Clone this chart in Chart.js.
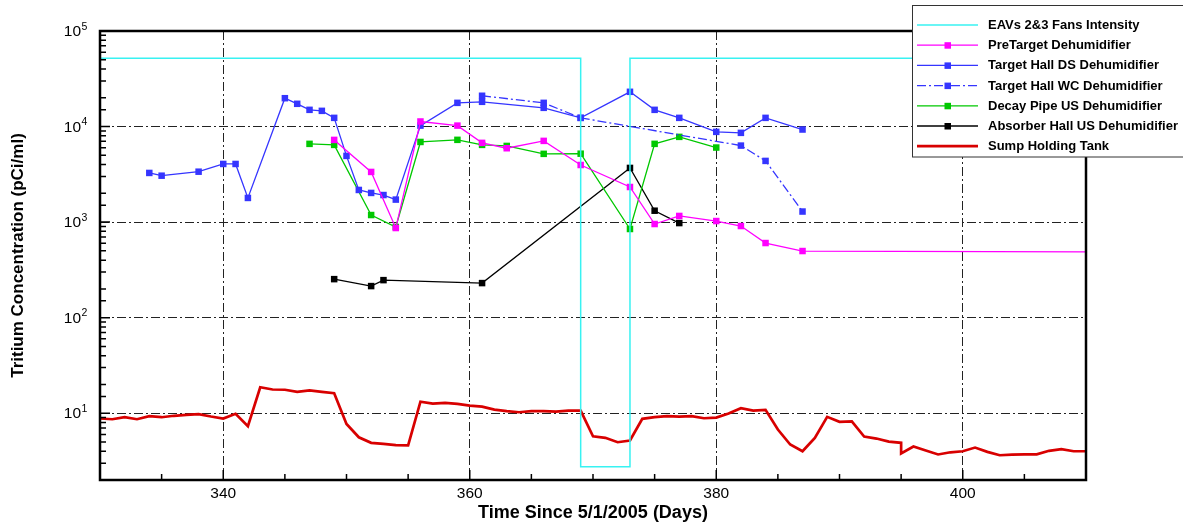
<!DOCTYPE html>
<html>
<head>
<meta charset="utf-8">
<script src="https://cdn.jsdelivr.net/npm/chart.js@4"></script>
<style>
  body { margin: 0; background: #fff; }
  canvas { display: block; }
</style>
</head>
<body>
<canvas id="chart" width="1183" height="529"></canvas>
<script>
// data (days since 5/1/2005, pCi/ml)
const eavDays = [330, 369, 369, 373, 373, 410];
const eavVals = [52000, 52000, 2.75, 2.75, 52000, 52000];

const preDays = [349, 352, 354, 356, 359, 361, 363, 366, 369, 373, 375, 377, 380, 382, 384, 387, 412];
const preVals = [7250, 3350, 867, 11300, 10230, 6750, 5930, 7080, 3960, 2330, 955, 1160, 1026, 910, 604, 498, 488];

const dsDays = [334, 335, 338, 340, 341, 342, 345, 346, 347, 348, 349, 350, 351, 352, 353, 354, 356, 359, 361, 366, 369, 373, 375, 377, 380, 382, 384, 387];
const dsVals = [3270, 3060, 3370, 4060, 4060, 1790, 19800, 17300, 14960, 14600, 12330, 4930, 2170, 2020, 1920, 1720, 10230, 17700, 18150, 15700, 12330, 23100, 14960, 12330, 8800, 8590, 12330, 9310];

const wcDays = [361, 366, 369, 382, 384, 387];
const wcVals = [21000, 17700, 12330, 6320, 4370, 1290];

const dpDays = [347, 349, 352, 354, 356, 359, 361, 363, 366, 369, 373, 375, 377, 380];
const dpVals = [6590, 6430, 1186, 889, 6900, 7260, 6430, 6270, 5180, 5200, 847, 6590, 7800, 6030];

const ahDays = [349, 352, 353, 361, 373, 375, 377];
const ahVals = [253, 214, 247, 230, 3690, 1316, 977];

const sumpDays = [330, 331, 332, 333, 334, 335, 336, 337, 338, 339, 340, 341, 342, 343, 344, 345, 346, 347, 348, 349,
  350, 351, 352, 353, 354, 355, 356, 357, 358, 359, 360, 361, 362, 363, 364, 365, 366, 367, 368, 369,
  370, 371, 372, 373, 374, 375, 376, 377, 378, 379, 380, 381, 382, 383, 384, 385, 386, 387, 388, 389,
  390, 391, 392, 393, 394, 395, 395, 396, 397, 398, 399, 400, 401, 402, 403, 404, 405, 406, 407, 408, 409, 410];
const sumpVals = [8.8, 8.65, 9.08, 8.65, 9.3, 9.08, 9.4, 9.62, 9.77, 9.23, 8.8, 9.85, 7.31, 18.7, 17.7, 17.6, 16.7, 17.3, 16.7, 16.2,
  7.72, 5.6, 4.9, 4.78, 4.63, 4.6, 13.2, 12.6, 12.8, 12.5, 12.0, 11.7, 10.9, 10.5, 10.24, 10.5, 10.5, 10.4, 10.65, 10.65,
  5.74, 5.53, 4.97, 5.18, 8.74, 9.08, 9.3, 9.23, 9.3, 8.86, 9.0, 9.93, 11.3, 10.65, 10.85, 6.74, 4.7, 4.0, 5.52, 9.16,
  8.13, 8.2, 5.69, 5.43, 5.05, 4.9, 3.8, 4.48, 4.07, 3.7, 3.9, 4.0, 4.37, 3.94, 3.63, 3.68, 3.71, 3.71, 4.04, 4.2, 4.0, 4.0];

const xMajorTicks = [340, 360, 380, 400];
const yDecades = [1, 2, 3, 4, 5];

const FONT = '"Liberation Sans", Arial, sans-serif';
const GRID_DASH = [9, 3, 2, 3];

function pts(xs, ys) {
  return xs.map((x, i) => ({ x: x, y: ys[i] }));
}

function series(label, xs, ys, color, opts) {
  return Object.assign({
    label: label,
    data: pts(xs, ys),
    borderColor: color,
    backgroundColor: color,
    borderWidth: 1.3,
    pointStyle: 'rect',
    pointRadius: 4.6,
    pointBorderWidth: 0,
    tension: 0
  }, opts || {});
}

const datasets = [
  series('EAVs 2&3 Fans Intensity', eavDays, eavVals, '#38f2f2', { pointRadius: 0, borderWidth: 1.5 }),
  series('PreTarget Dehumidifier', preDays, preVals, '#ff00ff'),
  series('Target Hall DS Dehumidifier', dsDays, dsVals, '#3535ff'),
  series('Target Hall WC Dehumidifier', wcDays, wcVals, '#3535ff', { borderDash: [9, 3, 2, 3] }),
  series('Decay Pipe US Dehumidifier', dpDays, dpVals, '#00c800'),
  series('Absorber Hall US Dehumidifier', ahDays, ahVals, '#000000'),
  series('Sump Holding Tank', sumpDays, sumpVals, '#d80000', { pointRadius: 0, borderWidth: 2.7 })
];

const isDecade = v => Math.abs(Math.log10(v) - Math.round(Math.log10(v))) < 1e-9;

const framePlugin = {
  id: 'frame',
  afterDraw(chart) {
    const ctx = chart.ctx;
    const a = chart.chartArea;
    const xs = chart.scales.x, ys = chart.scales.y;
    ctx.save();

    // inward ticks
    ctx.strokeStyle = '#000';
    ctx.lineWidth = 1.5;
    ctx.beginPath();
    xs.ticks.forEach(t => {
      const px = xs.getPixelForValue(t.value);
      const len = xMajorTicks.includes(t.value) ? 10 : 6;
      ctx.moveTo(px, a.bottom);
      ctx.lineTo(px, a.bottom - len);
    });
    ys.ticks.forEach(t => {
      const py = ys.getPixelForValue(t.value);
      const len = isDecade(t.value) ? 10 : 6;
      ctx.moveTo(a.left, py);
      ctx.lineTo(a.left + len, py);
    });
    ctx.stroke();

    // frame
    ctx.lineWidth = 2.5;
    ctx.strokeRect(a.left, a.top, a.right - a.left, a.bottom - a.top);

    // y labels 10^n
    ctx.fillStyle = '#000';
    yDecades.forEach(d => {
      const py = ys.getPixelForValue(Math.pow(10, d));
      ctx.font = '15.5px ' + FONT;
      ctx.textAlign = 'right';
      ctx.textBaseline = 'middle';
      ctx.fillText('10', 81, py + 1);
      ctx.font = '10.5px ' + FONT;
      ctx.textAlign = 'left';
      ctx.textBaseline = 'alphabetic';
      ctx.fillText(String(d), 81.5, py - 1.5);
    });

    // legend
    const lx = 912.5, ly = 5.5, lw = 290, lh = 151.5;
    ctx.fillStyle = '#fff';
    ctx.fillRect(lx, ly, lw, lh);
    ctx.lineWidth = 1;
    ctx.strokeStyle = '#333';
    ctx.strokeRect(lx, ly, lw, lh);
    chart.data.datasets.forEach((ds, i) => {
      const y = 25 + i * 20.2;
      ctx.strokeStyle = ds.borderColor;
      ctx.lineWidth = ds.borderWidth;
      ctx.setLineDash(ds.borderDash || []);
      ctx.beginPath();
      ctx.moveTo(917, y);
      ctx.lineTo(978, y);
      ctx.stroke();
      ctx.setLineDash([]);
      if (ds.pointRadius) {
        ctx.fillStyle = ds.backgroundColor;
        ctx.fillRect(944.5, y - 3, 6.5, 6.5);
      }
      ctx.fillStyle = '#000';
      ctx.font = 'bold 13px ' + FONT;
      ctx.textAlign = 'left';
      ctx.textBaseline = 'middle';
      ctx.fillText(ds.label, 988, y + 0.5);
    });
    ctx.restore();
  }
};

new Chart(document.getElementById('chart').getContext('2d'), {
  type: 'line',
  data: { datasets: datasets },
  options: {
    responsive: false,
    animation: false,
    layout: { padding: { top: 31, right: 97, left: 0, bottom: 0 } },
    plugins: { legend: { display: false }, tooltip: { enabled: false } },
    scales: {
      x: {
        type: 'linear',
        min: 330,
        max: 410,
        ticks: {
          stepSize: 5,
          autoSkip: false,
          maxRotation: 0,
          padding: 4,
          color: '#000',
          font: { family: FONT, size: 15.5 },
          callback: v => xMajorTicks.includes(v) ? String(v) : ''
        },
        grid: {
          drawTicks: false,
          lineWidth: 1,
          color: c => (c.tick && xMajorTicks.includes(c.tick.value)) ? '#222' : 'rgba(0,0,0,0)'
        },
        border: { display: false, dash: GRID_DASH },
        title: {
          display: true,
          text: 'Time Since 5/1/2005 (Days)',
          color: '#000',
          font: { family: FONT, size: 18, weight: 'bold' },
          padding: { top: 0, bottom: 5 }
        },
        afterFit: s => { s.height = 49; }
      },
      y: {
        type: 'logarithmic',
        min: 2,
        max: 100000,
        ticks: { display: false },
        grid: {
          drawTicks: false,
          lineWidth: 1,
          color: c => (c.tick && isDecade(c.tick.value)) ? '#222' : 'rgba(0,0,0,0)'
        },
        border: { display: false, dash: GRID_DASH },
        title: {
          display: true,
          text: 'Tritium Concentration (pCi/ml)',
          color: '#000',
          font: { family: FONT, size: 17, weight: 'bold' },
          padding: { top: 8, bottom: 0 }
        },
        afterFit: s => { s.width = 100; }
      }
    }
  },
  plugins: [framePlugin]
});
</script>
</body>
</html>
